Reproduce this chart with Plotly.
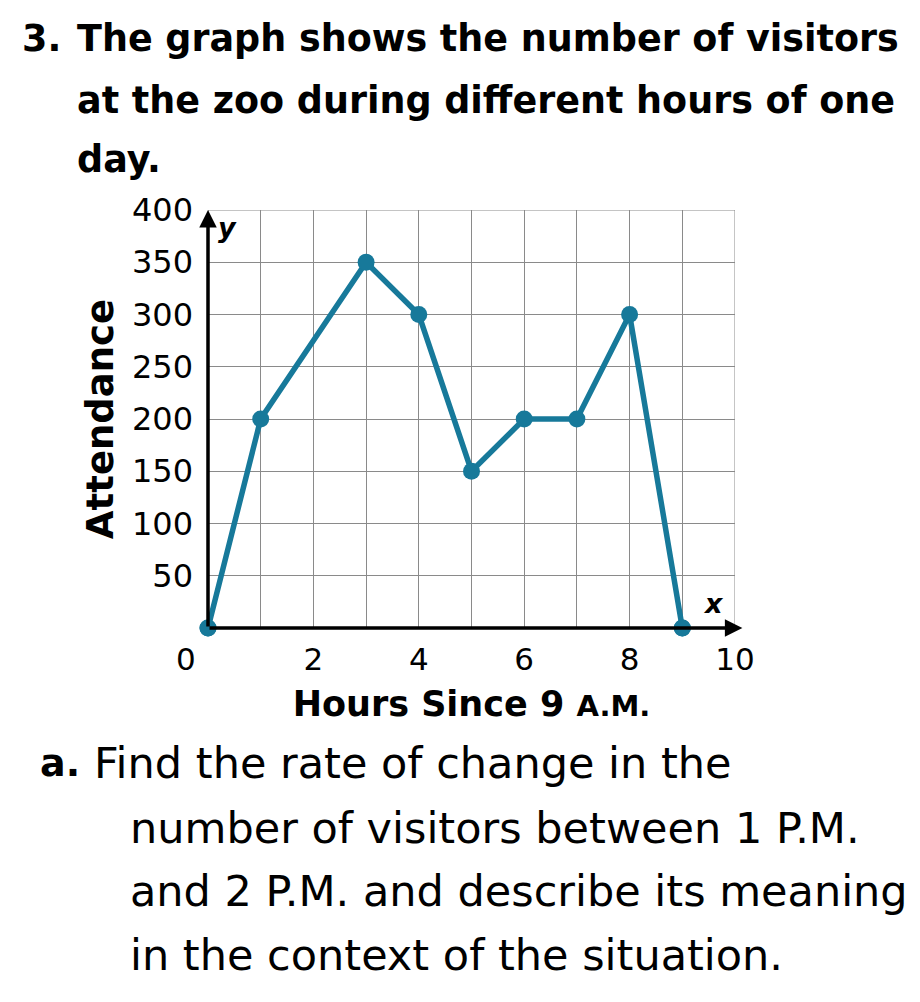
import plotly.graph_objects as go

hours = [0, 1, 3, 4, 5, 6, 7, 8, 9]
attendance = [0, 200, 350, 300, 150, 200, 200, 300, 0]
y_ticks = [50, 100, 150, 200, 250, 300, 350, 400]
x_ticks = [2, 4, 6, 8, 10]

W, H = 920, 1002
L, R, T, B = 208, 735, 210, 628

def px(x):
    return (x - L) / (R - L)

def py(y):
    return (B - y) / (B - T)

TEAL = "#17799a"
GRID = "#8a8a8a"
FONT = "DejaVu Sans"

fig = go.Figure()
fig.add_trace(go.Scatter(
    x=hours, y=attendance, mode="lines+markers",
    line=dict(color=TEAL, width=5.5),
    marker=dict(color=TEAL, size=17),
    cliponaxis=False, hoverinfo="skip", showlegend=False,
))

fig.update_layout(
    width=W, height=H,
    margin=dict(l=L, r=W - R, t=T, b=H - B, pad=0),
    paper_bgcolor="white", plot_bgcolor="white",
    font=dict(family=FONT, color="black"),
    xaxis=dict(range=[0, 10], showgrid=True, gridcolor=GRID, gridwidth=1,
               tickmode="array", tickvals=x_ticks, ticktext=[str(v) for v in x_ticks],
               tickfont=dict(size=31, family=FONT), ticks="", ticklabelstandoff=10,
               showline=False, zeroline=False, fixedrange=True,
               title=dict(text="<b>Hours Since 9 <span style='font-size:29px'>A.M.</span></b>",
                          font=dict(size=35, family=FONT), standoff=15)),
    yaxis=dict(range=[0, 400], showgrid=True, gridcolor=GRID, gridwidth=1,
               tickmode="array", tickvals=y_ticks, ticktext=[str(v) for v in y_ticks],
               tickfont=dict(size=32, family=FONT), ticks="", ticklabelstandoff=14,
               showline=False, zeroline=False, fixedrange=True,
               title=dict(text="<b>Attendance</b>", font=dict(size=37, family=FONT), standoff=6)),
)
fig.update_xaxes(minor=dict(tickvals=list(range(0, 11)), showgrid=True, gridcolor=GRID, gridwidth=1))

fig.add_shape(type="rect", xref="x", yref="y", x0=0, x1=10, y0=0, y1=400,
              line=dict(color=GRID, width=1), layer="below")

# axes with arrows
fig.add_annotation(x=10.14, y=0, ax=0, ay=0, xref="x", yref="y", axref="x", ayref="y",
                   showarrow=True, arrowhead=2, arrowsize=1.0, arrowwidth=3.5, arrowcolor="black", text="")
fig.add_annotation(x=0, y=400, ax=0, ay=0, xref="x", yref="y", axref="x", ayref="y",
                   showarrow=True, arrowhead=2, arrowsize=1.0, arrowwidth=3.5, arrowcolor="black", text="")
fig.add_annotation(x=9.6, y=0, xref="x", yref="y", yshift=25, text="<b><i>x</i></b>", showarrow=False,
                   font=dict(size=27, family=FONT))
fig.add_annotation(x=0, y=400, xref="x", yref="y", xshift=19, yshift=-17, text="<b><i>y</i></b>", showarrow=False,
                   font=dict(size=27, family=FONT))
fig.add_annotation(x=0, y=0, xref="x", yref="y", xshift=-22, yshift=-31, text="0", showarrow=False,
                   font=dict(size=31, family=FONT))

fig.add_trace(go.Scatter(
    x=[hours[0], hours[-1]], y=[attendance[0], attendance[-1]], mode="markers",
    marker=dict(color=TEAL, size=17), cliponaxis=False, hoverinfo="skip", showlegend=False,
))

def text(x, y, s, size, bold=False):
    if bold:
        s = "<b>" + s + "</b>"
    fig.add_annotation(x=px(x), y=py(y), xref="paper", yref="paper", text=s, showarrow=False,
                       xanchor="left", yanchor="middle", font=dict(size=size, family=FONT, color="black"))

text(20, 38, "3.", 36.5, True)
text(75, 38, "The graph shows the number of visitors", 36.5, True)
text(75, 100, "at the zoo during different hours of one", 36.5, True)
text(75, 160, "day.", 36.5, True)
text(38, 763, "a.", 38, True)
text(92, 763, "Find the rate of change in the", 43)
text(128, 828, "number of visitors between 1 P.M.", 43)
text(128, 891, "and 2 P.M. and describe its meaning", 43)
text(128, 955, "in the context of the situation.", 43)

fig.write_html("out.html", config={"displayModeBar": False},
               post_script="document.body.style.margin='0';")
